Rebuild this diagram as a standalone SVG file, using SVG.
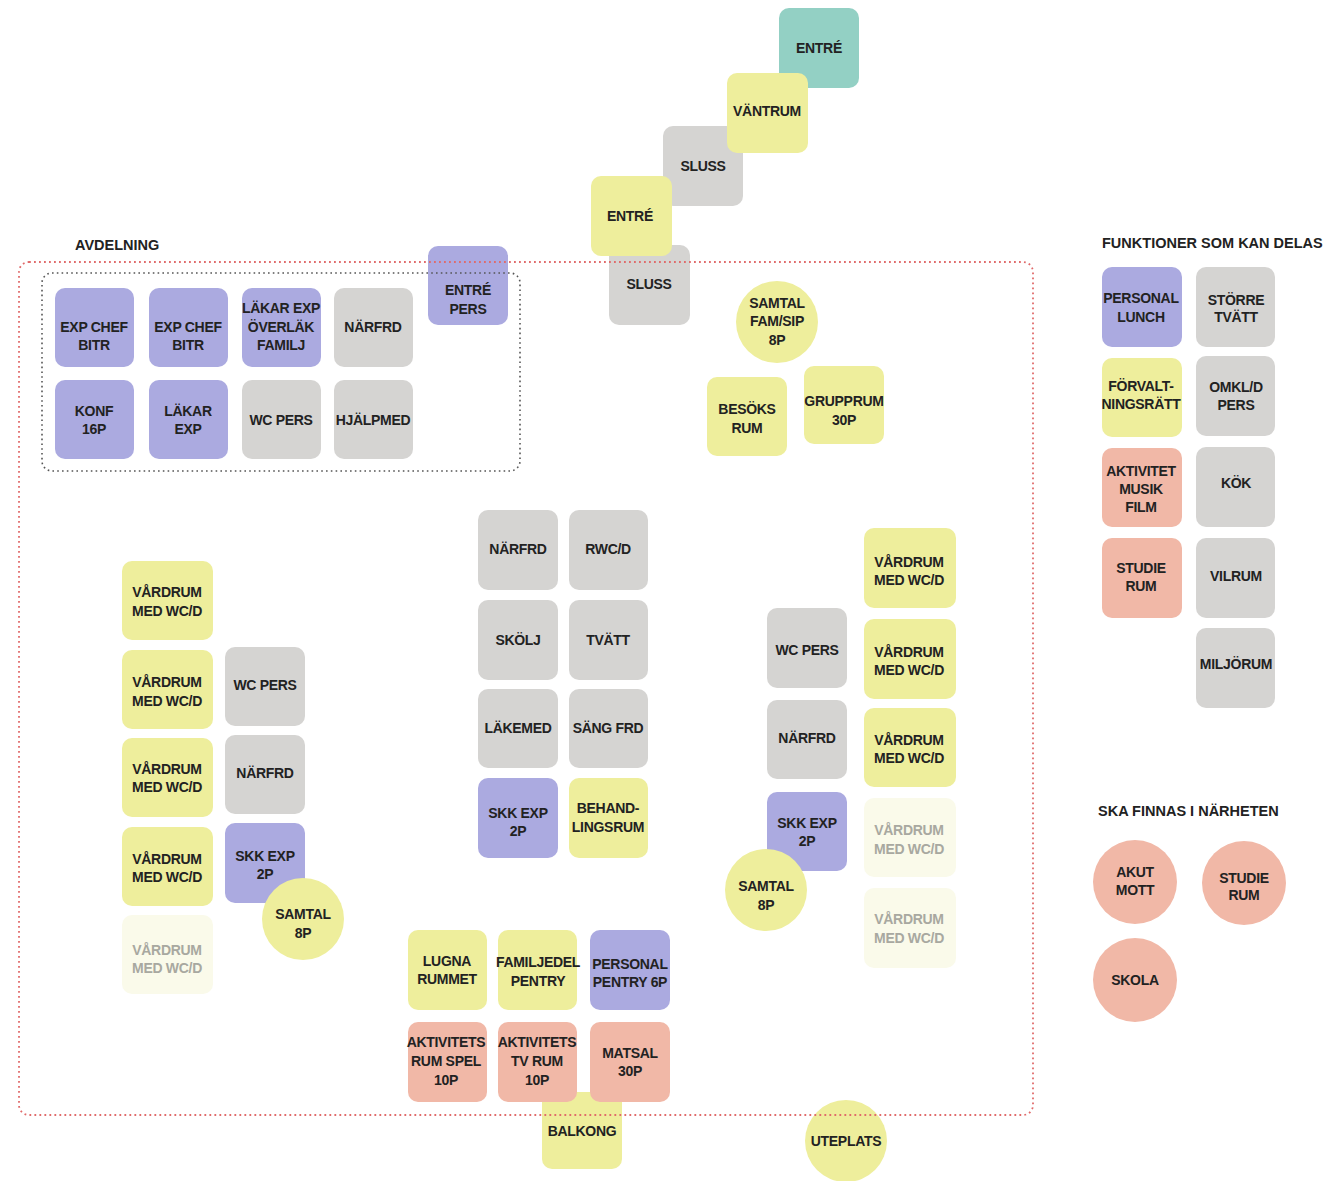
<svg xmlns="http://www.w3.org/2000/svg" width="1334" height="1181" viewBox="0 0 1334 1181">
<style>
text{font-family:"Liberation Sans",Arial,sans-serif;font-weight:bold;font-size:14px;fill:#222;text-anchor:middle;letter-spacing:-0.3px}
.h{font-size:14.5px;text-anchor:start;letter-spacing:0px}
rect{rx:10;ry:10}
.p{fill:#abaae0}.g{fill:#d5d4d2}.y{fill:#eeee9c}.s{fill:#f1b8a7}.t{fill:#93d0c4}.f{fill:#fafaea}
.ft{fill:#a8a8a0}
.red{fill:none;stroke:#e06a6a;stroke-width:1.8;stroke-dasharray:1.8 3.2}
.blk{fill:none;stroke:#555;stroke-width:1.6;stroke-dasharray:1.6 3.2}
</style>
<rect width="1334" height="1181" fill="#ffffff" rx="0" ry="0"/>

<g id="labels">
<text class="h" x="75" y="250">AVDELNING</text>
<text class="h" x="1102" y="248">FUNKTIONER SOM KAN DELAS</text>
<text class="h" x="1098" y="816">SKA FINNAS I NÄRHETEN</text>
</g>

<!-- entrance staircase -->
<g id="entre-top"><rect class="t" x="779" y="8" width="80" height="80"/><text x="819" y="53">ENTRÉ</text></g>
<g id="sluss-1"><rect class="g" x="663" y="126" width="80" height="80"/><text x="703" y="171">SLUSS</text></g>
<g id="sluss-2"><rect class="g" x="609" y="245" width="81" height="80"/><text x="649" y="289">SLUSS</text></g>
<g id="vantrum"><rect class="y" x="727" y="73" width="81" height="80"/><text x="767" y="116">VÄNTRUM</text></g>
<g id="entre"><rect class="y" x="591" y="176" width="81" height="80"/><text x="630" y="221">ENTRÉ</text></g>

<!-- administration box -->
<g id="exp-chef-1"><rect class="p" x="55" y="288" width="79" height="79"/><text x="94" y="332">EXP CHEF</text><text x="94" y="350">BITR</text></g>
<g id="exp-chef-2"><rect class="p" x="149" y="288" width="79" height="79"/><text x="188" y="332">EXP CHEF</text><text x="188" y="350">BITR</text></g>
<g id="lakar-exp-overlak"><rect class="p" x="242" y="288" width="79" height="79"/><text x="281" y="313">LÄKAR EXP</text><text x="281" y="332">ÖVERLÄK</text><text x="281" y="350">FAMILJ</text></g>
<g id="narfrd-a"><rect class="g" x="334" y="288" width="79" height="79"/><text x="373" y="332">NÄRFRD</text></g>
<g id="konf"><rect class="p" x="55" y="380" width="79" height="79"/><text x="94" y="416">KONF</text><text x="94" y="434">16P</text></g>
<g id="lakar-exp"><rect class="p" x="149" y="380" width="79" height="79"/><text x="188" y="416">LÄKAR</text><text x="188" y="434">EXP</text></g>
<g id="wc-pers-a"><rect class="g" x="242" y="380" width="79" height="79"/><text x="281" y="425">WC PERS</text></g>
<g id="hjalpmed"><rect class="g" x="334" y="380" width="79" height="79"/><text x="373" y="425">HJÄLPMED</text></g>
<g id="entre-pers"><rect class="p" x="428" y="246" width="80" height="79"/><text x="468" y="295">ENTRÉ</text><text x="468" y="314">PERS</text></g>

<!-- upper right group -->
<g id="samtal-fam"><circle class="y" cx="777" cy="322" r="41"/><text x="777" y="308">SAMTAL</text><text x="777" y="326">FAM/SIP</text><text x="777" y="345">8P</text></g>
<g id="besoks-rum"><rect class="y" x="707" y="377" width="80" height="79"/><text x="747" y="414">BESÖKS</text><text x="747" y="433">RUM</text></g>
<g id="grupprum"><rect class="y" x="804" y="366" width="80" height="78"/><text x="844" y="406">GRUPPRUM</text><text x="844" y="425">30P</text></g>

<!-- left wing -->
<g id="vardrum-l1"><rect class="y" x="122" y="561" width="91" height="79"/><text x="167" y="597">VÅRDRUM</text><text x="167" y="616">MED WC/D</text></g>
<g id="vardrum-l2"><rect class="y" x="122" y="650" width="91" height="79"/><text x="167" y="687">VÅRDRUM</text><text x="167" y="706">MED WC/D</text></g>
<g id="vardrum-l3"><rect class="y" x="122" y="738" width="91" height="79"/><text x="167" y="774">VÅRDRUM</text><text x="167" y="792">MED WC/D</text></g>
<g id="vardrum-l4"><rect class="y" x="122" y="827" width="91" height="79"/><text x="167" y="864">VÅRDRUM</text><text x="167" y="882">MED WC/D</text></g>
<g id="vardrum-l5"><rect class="f" x="122" y="915" width="91" height="79"/><text class="ft" x="167" y="955">VÅRDRUM</text><text class="ft" x="167" y="973">MED WC/D</text></g>
<g id="wc-pers-l"><rect class="g" x="225" y="647" width="80" height="79"/><text x="265" y="690">WC PERS</text></g>
<g id="narfrd-l"><rect class="g" x="225" y="735" width="80" height="79"/><text x="265" y="778">NÄRFRD</text></g>
<g id="skk-exp-l"><rect class="p" x="225" y="823" width="80" height="80"/><text x="265" y="861">SKK EXP</text><text x="265" y="879">2P</text></g>
<g id="samtal-l"><circle class="y" cx="303" cy="919" r="41"/><text x="303" y="919">SAMTAL</text><text x="303" y="938">8P</text></g>

<!-- central core -->
<g id="narfrd-c"><rect class="g" x="478" y="510" width="80" height="80"/><text x="518" y="554">NÄRFRD</text></g>
<g id="rwcd"><rect class="g" x="569" y="510" width="79" height="80"/><text x="608" y="554">RWC/D</text></g>
<g id="skolj"><rect class="g" x="478" y="600" width="80" height="80"/><text x="518" y="645">SKÖLJ</text></g>
<g id="tvatt"><rect class="g" x="569" y="600" width="79" height="80"/><text x="608" y="645">TVÄTT</text></g>
<g id="lakemed"><rect class="g" x="478" y="689" width="80" height="79"/><text x="518" y="733">LÄKEMED</text></g>
<g id="sang-frd"><rect class="g" x="569" y="689" width="79" height="79"/><text x="608" y="733">SÄNG FRD</text></g>
<g id="skk-exp-c"><rect class="p" x="478" y="778" width="80" height="80"/><text x="518" y="818">SKK EXP</text><text x="518" y="836">2P</text></g>
<g id="behandlingsrum"><rect class="y" x="569" y="778" width="79" height="80"/><text x="608" y="813">BEHAND-</text><text x="608" y="832">LINGSRUM</text></g>

<!-- right wing -->
<g id="vardrum-r1"><rect class="y" x="864" y="528" width="92" height="80"/><text x="909" y="567">VÅRDRUM</text><text x="909" y="585">MED WC/D</text></g>
<g id="vardrum-r2"><rect class="y" x="864" y="619" width="92" height="80"/><text x="909" y="657">VÅRDRUM</text><text x="909" y="675">MED WC/D</text></g>
<g id="vardrum-r3"><rect class="y" x="864" y="708" width="92" height="79"/><text x="909" y="745">VÅRDRUM</text><text x="909" y="763">MED WC/D</text></g>
<g id="vardrum-r4"><rect class="f" x="864" y="798" width="92" height="79"/><text class="ft" x="909" y="835">VÅRDRUM</text><text class="ft" x="909" y="854">MED WC/D</text></g>
<g id="vardrum-r5"><rect class="f" x="864" y="888" width="92" height="80"/><text class="ft" x="909" y="924">VÅRDRUM</text><text class="ft" x="909" y="943">MED WC/D</text></g>
<g id="wc-pers-r"><rect class="g" x="767" y="608" width="80" height="80"/><text x="807" y="655">WC PERS</text></g>
<g id="narfrd-r"><rect class="g" x="767" y="700" width="80" height="79"/><text x="807" y="743">NÄRFRD</text></g>
<g id="skk-exp-r"><rect class="p" x="767" y="792" width="80" height="79"/><text x="807" y="828">SKK EXP</text><text x="807" y="846">2P</text></g>
<g id="samtal-r"><circle class="y" cx="766" cy="890" r="41"/><text x="766" y="891">SAMTAL</text><text x="766" y="910">8P</text></g>

<!-- bottom group -->
<g id="balkong"><rect class="y" x="542" y="1092" width="80" height="77"/><text x="582" y="1136">BALKONG</text></g>
<g id="lugna-rummet"><rect class="y" x="408" y="930" width="79" height="80"/><text x="447" y="966">LUGNA</text><text x="447" y="984">RUMMET</text></g>
<g id="familjedel-pentry"><rect class="y" x="498" y="930" width="79" height="80"/><text x="538" y="967">FAMILJEDEL</text><text x="538" y="986">PENTRY</text></g>
<g id="personal-pentry"><rect class="p" x="590" y="930" width="80" height="80"/><text x="630" y="969">PERSONAL</text><text x="630" y="987">PENTRY 6P</text></g>
<g id="aktivitets-spel"><rect class="s" x="408" y="1022" width="79" height="80"/><text x="446" y="1047">AKTIVITETS</text><text x="446" y="1066">RUM SPEL</text><text x="446" y="1085">10P</text></g>
<g id="aktivitets-tv"><rect class="s" x="498" y="1022" width="79" height="80"/><text x="537" y="1047">AKTIVITETS</text><text x="537" y="1066">TV RUM</text><text x="537" y="1085">10P</text></g>
<g id="matsal"><rect class="s" x="590" y="1022" width="80" height="80"/><text x="630" y="1058">MATSAL</text><text x="630" y="1076">30P</text></g>
<g id="uteplats"><circle class="y" cx="846" cy="1141" r="41"/><text x="846" y="1146">UTEPLATS</text></g>

<!-- shared functions legend -->
<g id="personal-lunch"><rect class="p" x="1102" y="267" width="80" height="80"/><text x="1141" y="303">PERSONAL</text><text x="1141" y="322">LUNCH</text></g>
<g id="storre-tvatt"><rect class="g" x="1196" y="267" width="79" height="80"/><text x="1236" y="305">STÖRRE</text><text x="1236" y="322">TVÄTT</text></g>
<g id="forvaltningsratt"><rect class="y" x="1102" y="358" width="80" height="79"/><text x="1141" y="391">FÖRVALT-</text><text x="1141" y="409">NINGSRÄTT</text></g>
<g id="omkl-pers"><rect class="g" x="1196" y="356" width="79" height="80"/><text x="1236" y="392">OMKL/D</text><text x="1236" y="410">PERS</text></g>
<g id="aktivitet-musik"><rect class="s" x="1102" y="448" width="80" height="79"/><text x="1141" y="476">AKTIVITET</text><text x="1141" y="494">MUSIK</text><text x="1141" y="512">FILM</text></g>
<g id="kok"><rect class="g" x="1196" y="447" width="79" height="80"/><text x="1236" y="488">KÖK</text></g>
<g id="studie-rum-a"><rect class="s" x="1102" y="538" width="80" height="80"/><text x="1141" y="573">STUDIE</text><text x="1141" y="591">RUM</text></g>
<g id="vilrum"><rect class="g" x="1196" y="538" width="79" height="80"/><text x="1236" y="581">VILRUM</text></g>
<g id="miljorum"><rect class="g" x="1196" y="628" width="79" height="80"/><text x="1236" y="669">MILJÖRUM</text></g>

<!-- nearby -->
<g id="akut-mott"><circle class="s" cx="1135" cy="882" r="42"/><text x="1135" y="877">AKUT</text><text x="1135" y="895">MOTT</text></g>
<g id="studie-rum-b"><circle class="s" cx="1244" cy="883" r="42"/><text x="1244" y="883">STUDIE</text><text x="1244" y="900">RUM</text></g>
<g id="skola"><circle class="s" cx="1135" cy="980" r="42"/><text x="1135" y="985">SKOLA</text></g>

<g id="frames">
<rect class="red" x="19" y="262" width="1014" height="853" rx="34" ry="34"/>
<rect class="blk" x="42" y="273" width="478" height="198" rx="22" ry="22"/>
</g>
</svg>
